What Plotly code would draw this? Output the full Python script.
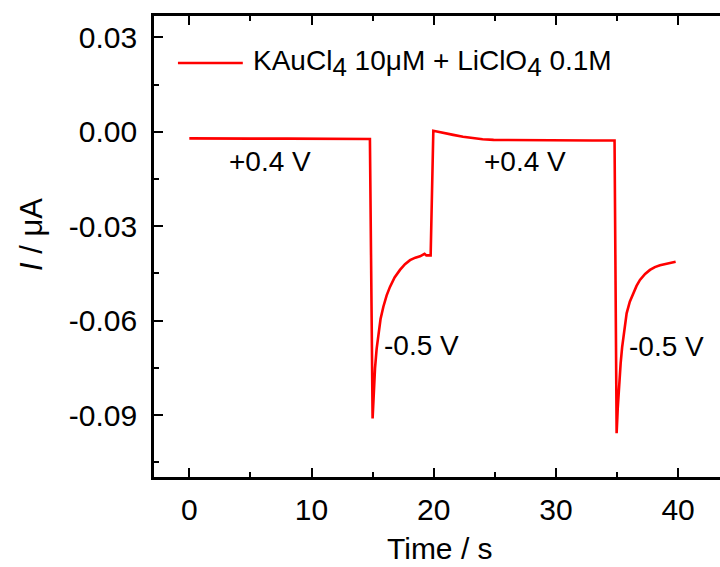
import plotly.graph_objects as go

# Chronoamperometry trace: current vs time for alternating +0.4 V / -0.5 V steps
time_s = [0, 2, 5, 8, 11, 14.78, 15.0, 15.05, 15.1, 15.2, 15.33, 15.47, 15.65,
          15.88, 16.15, 16.42, 16.8, 17.24, 17.65, 18.06, 18.5, 18.88, 19.1,
          19.25, 19.4, 19.6, 19.75, 19.97, 20.5, 21.0, 21.6, 22.4, 23.2, 24.0,
          24.9, 27, 30, 33, 34.8, 34.97, 35.02, 35.06, 35.1, 35.2, 35.3, 35.42,
          35.55, 35.79, 36.05, 36.33, 36.6, 36.88, 37.3, 37.7, 38.1, 38.52,
          39.1, 39.8]
current_uA = [-0.0021, -0.0022, -0.0022, -0.0022, -0.0022, -0.0023, -0.0911,
              -0.0860, -0.0815, -0.0750, -0.0690, -0.0641, -0.0595, -0.0556,
              -0.0520, -0.0493, -0.0463, -0.0439, -0.0421, -0.0408, -0.0400,
              -0.0396, -0.0392, -0.0388, -0.0393, -0.0393, -0.0393, 0.0003,
              -0.0002, -0.0006, -0.0010, -0.0016, -0.0021, -0.0024, -0.0026,
              -0.0027, -0.0028, -0.0028, -0.0028, -0.0958, -0.0915, -0.0880,
              -0.0850, -0.0785, -0.0735, -0.0685, -0.0640, -0.0577, -0.0540,
              -0.0512, -0.0490, -0.0471, -0.0452, -0.0439, -0.0430, -0.0424,
              -0.0418, -0.0413]

series_name = "KAuCl<sub><span style=\"font-size:26px\">4</span></sub> 10μM + LiClO<sub><span style=\"font-size:26px\">4</span></sub> 0.1M"

x_ticks = [0, 10, 20, 30, 40]
x_ticklabels = ["0", "10", "20", "30", "40"]
x_minor = [5, 15, 25, 35]
y_ticks = [0.03, 0.00, -0.03, -0.06, -0.09]
y_ticklabels = ["0.03", "0.00", "-0.03", "-0.06", "-0.09"]
y_minor = [0.015, -0.015, -0.045, -0.075, -0.105]

# Potential labels placed next to each step
step_labels = ["+0.4 V", "+0.4 V", "-0.5 V", "-0.5 V"]
step_label_x = [6.6, 27.47, 19.04, 39.07]
step_label_y = [-0.0095, -0.0095, -0.0678, -0.0683]

x_range = [-2.89, 43.43]
y_range = [-0.1097, 0.03677]

FONT = "Liberation Sans, Arial, sans-serif"
RED = "#ff0000"

fig = go.Figure()
fig.add_trace(go.Scatter(x=time_s, y=current_uA, mode="lines",
                         line=dict(color=RED, width=2.6),
                         name=series_name, showlegend=False))

axis_common = dict(showline=True, linecolor="black", linewidth=2.6,
                   ticks="inside", tickcolor="black", tickwidth=2.4, ticklen=9,
                   showgrid=False, zeroline=False,
                   tickfont=dict(family=FONT, size=30, color="black"))

fig.update_layout(
    width=720, height=567,
    margin=dict(l=154, r=0, t=16, b=90),
    paper_bgcolor="white", plot_bgcolor="white",
    xaxis=dict(range=x_range, tickmode="array", tickvals=x_ticks,
               ticktext=x_ticklabels, mirror="ticks", ticklabelstandoff=4,
               minor=dict(tickmode="array", tickvals=x_minor, ticks="inside",
                          ticklen=5, tickwidth=2.4, tickcolor="black"),
               **axis_common),
    yaxis=dict(range=y_range, tickmode="array", tickvals=y_ticks,
               ticktext=y_ticklabels, ticklabelstandoff=8,
               minor=dict(tickmode="array", tickvals=y_minor, ticks="inside",
                          ticklen=5, tickwidth=2.4, tickcolor="black"),
               **axis_common),
    yaxis2=dict(range=y_range, overlaying="y", side="right", showline=False,
                tickmode="array", tickvals=y_ticks, ticks="inside",
                ticklen=4, tickwidth=2.4, tickcolor="black",
                showticklabels=False, showgrid=False, zeroline=False),
    showlegend=False,
)

annotations = []
for text, ax, ay in zip(step_labels, step_label_x, step_label_y):
    annotations.append(dict(x=ax, y=ay, xref="x", yref="y", text=text,
                            showarrow=False, xanchor="center", yanchor="middle",
                            font=dict(family=FONT, size=28, color="black")))

# Axis titles
annotations.append(dict(x=0.5056, y=-0.155, xref="paper", yref="paper",
                        text="Time / s", showarrow=False, xanchor="center",
                        yanchor="middle",
                        font=dict(family=FONT, size=30, color="black")))
annotations.append(dict(x=-0.2163, y=0.526, xref="paper", yref="paper",
                        text="<i>I</i> / μA", showarrow=False, textangle=-90,
                        xanchor="center", yanchor="middle",
                        font=dict(family=FONT, size=31, color="black")))

# Legend entry: line sample + label
fig.add_shape(type="line", xref="paper", yref="paper",
              x0=0.0423, x1=0.1569, y0=0.8979, y1=0.8979,
              line=dict(color=RED, width=2.6))
annotations.append(dict(x=0.1717, y=0.8979, xref="paper", yref="paper",
                        text=series_name, showarrow=False, xanchor="left",
                        yanchor="middle",
                        font=dict(family=FONT, size=28, color="black")))

fig.update_layout(annotations=annotations)

fig.write_html("out.html")
